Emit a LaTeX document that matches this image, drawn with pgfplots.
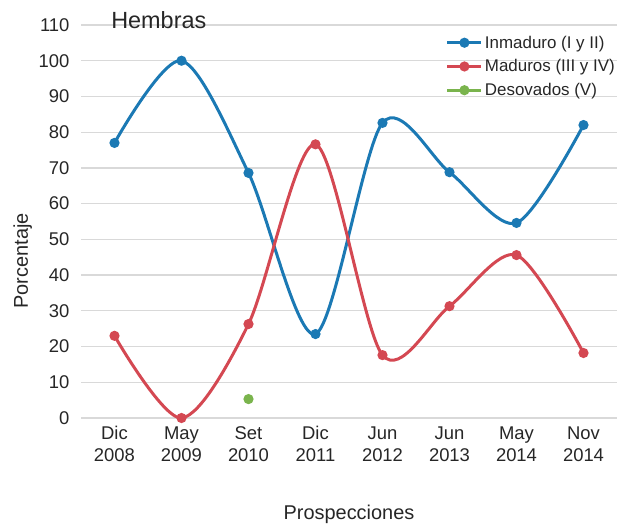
\documentclass[border=0pt]{standalone}
\usepackage{fontspec}
\setmainfont{Liberation Sans}
\usepackage{pgfplots}
\pgfplotsset{compat=1.18}

\definecolor{inmad}{RGB}{27,121,180}
\definecolor{madur}{RGB}{212,72,82}
\definecolor{desov}{RGB}{122,180,77}
\definecolor{gridc}{RGB}{217,217,217}

\begin{document}
\begin{tikzpicture}
\begin{axis}[
    name=ax,
    scale only axis,
    width=536bp,
    height=393bp,
    xmin=-0.5, xmax=7.5,
    ymin=0, ymax=110,
    xtick={0,...,7},
    xticklabels={{Dic\\2008},{May\\2009},{Set\\2010},{Dic\\2011},{Jun\\2012},{Jun\\2013},{May\\2014},{Nov\\2014}},
    ytick={0,10,...,110},
    axis line style={draw=none},
    major tick length=0pt,
    ymajorgrids,
    grid style={gridc, line width=1.2bp},
    clip=false,
    /pgf/number format/assume math mode=true,
    tick label style={font=\fontsize{18.5}{22}\selectfont, text=black!85},
    xticklabel style={align=center, yshift=-5bp},
    yticklabel style={xshift=-8bp},
    xlabel={Prospecciones},
    ylabel={Porcentaje},
    xlabel style={font=\fontsize{20}{24}\selectfont, text=black!85, yshift=-36bp},
    ylabel style={font=\fontsize{20}{24}\selectfont, text=black!85,
        at={(ticklabel cs:0.40)}},
    legend cell align=left,
    legend style={at={(rel axis cs:1,0.978)}, anchor=north east, draw=none, fill=none,
        font=\fontsize{17}{20}\selectfont, text=black!85, inner sep=0pt,
        row sep=6bp},
    legend image code/.code={%
        \draw[mark repeat=2, mark phase=2] plot coordinates {(0bp,0bp) (17bp,0bp) (34bp,0bp)};},
    every axis plot/.append style={line width=3bp, mark=*, mark size=3.5bp, smooth, tension=0.5},
]
\addplot[color=inmad, mark options={fill=inmad, draw=inmad}] coordinates {
    (0,77.0) (1,100.0) (2,68.6) (3,23.5) (4,82.6) (5,68.8) (6,54.6) (7,82.0)
};
\addlegendentry{Inmaduro (I y II)}
\addplot[color=madur, mark options={fill=madur, draw=madur}] coordinates {
    (0,23.0) (1,0.0) (2,26.3) (3,76.6) (4,17.6) (5,31.3) (6,45.6) (7,18.2)
};
\addlegendentry{Maduros (III y IV)}
\addplot[color=desov, mark options={fill=desov, draw=desov}] coordinates {
    (2,5.3)
};
\addlegendentry{Desovados (V)}
\node[anchor=base west, font=\fontsize{23.5}{28}\selectfont, text=black!85]
    at (rel axis cs:0.05,0.99) {Hembras};
\end{axis}
\pgfresetboundingbox
\path[use as bounding box] ([shift={(-81bp,-108bp)}]ax.south west) rectangle ([shift={(3bp,25bp)}]ax.north east);
\end{tikzpicture}
\end{document}
